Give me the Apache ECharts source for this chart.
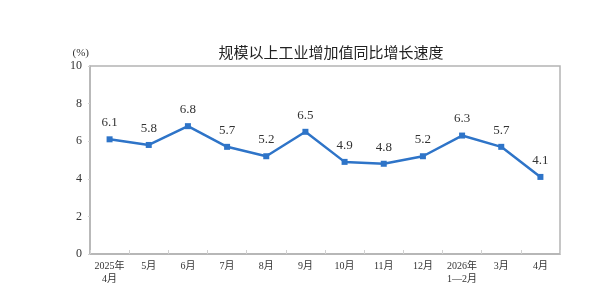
<!DOCTYPE html>
<html>
<head>
<meta charset="utf-8">
<script src="https://cdn.jsdelivr.net/npm/echarts@6/dist/echarts.min.js"></script>
<style>
  html, body { margin: 0; padding: 0; background: #fff; }
  #chart { width: 600px; height: 298px; }
</style>
</head>
<body>
<div id="chart"></div>
<script>
// 月份
const months = ["2025年\n4月", "5月", "6月", "7月", "8月", "9月", "10月", "11月", "12月", "2026年\n1—2月", "3月", "4月"];
// 同比增长速度(%)
const growth = [6.1, 5.8, 6.8, 5.7, 5.2, 6.5, 4.9, 4.8, 5.2, 6.3, 5.7, 4.1];
const yTicks = [0, 2, 4, 6, 8, 10];

const serif = '"Liberation Serif", "Noto Sans CJK SC", serif';
const axisGray = "#b4b4b4";

let myChart = echarts.init(document.getElementById("chart"));
myChart.setOption({
    animation: false,
    title: {
        text: "规模以上工业增加值同比增长速度",
        left: 326,
        textAlign: "center",
        top: 40,
        textStyle: {
            fontFamily: '"Noto Sans CJK SC", sans-serif',
            fontSize: 15,
            fontWeight: "normal",
            color: "#222"
        }
    },
    grid: {
        left: 90,
        right: 40,
        top: 66,
        bottom: 44,
        show: true,
        borderColor: axisGray,
        borderWidth: 1.5
    },
    xAxis: {
        type: "category",
        data: months,
        boundaryGap: true,
        axisLine: { lineStyle: { color: axisGray, width: 1.5 } },
        axisTick: { show: true, inside: true, length: 4, lineStyle: { color: "#d0d0d0" } },
        axisLabel: {
            color: "#333",
            fontFamily: serif,
            fontSize: 10,
            lineHeight: 13,
            margin: 6,
            interval: 0
        }
    },
    yAxis: {
        type: "value",
        name: "(%)",
        nameLocation: "end",
        nameGap: 7,
        nameTextStyle: { color: "#333", fontFamily: serif, fontSize: 11, align: "right", padding: [0, 1, 0, 0] },
        min: yTicks[0],
        max: yTicks[yTicks.length - 1],
        interval: 2,
        axisLine: { show: true, lineStyle: { color: axisGray, width: 1.5 } },
        axisTick: { show: true, length: 2, lineStyle: { color: "#d0d0d0" } },
        splitLine: { show: false },
        axisLabel: { color: "#333", fontFamily: serif, fontSize: 12, margin: 8 }
    },
    series: [{
        type: "line",
        data: growth,
        symbol: "rect",
        symbolSize: 6,
        lineStyle: { color: "#2e74c8", width: 2.5 },
        itemStyle: { color: "#2e74c8" },
        label: {
            show: true,
            position: "top",
            distance: 7,
            color: "#333",
            fontFamily: serif,
            fontSize: 13,
            formatter: p => p.value.toFixed(1)
        }
    }]
});
</script>
</body>
</html>
